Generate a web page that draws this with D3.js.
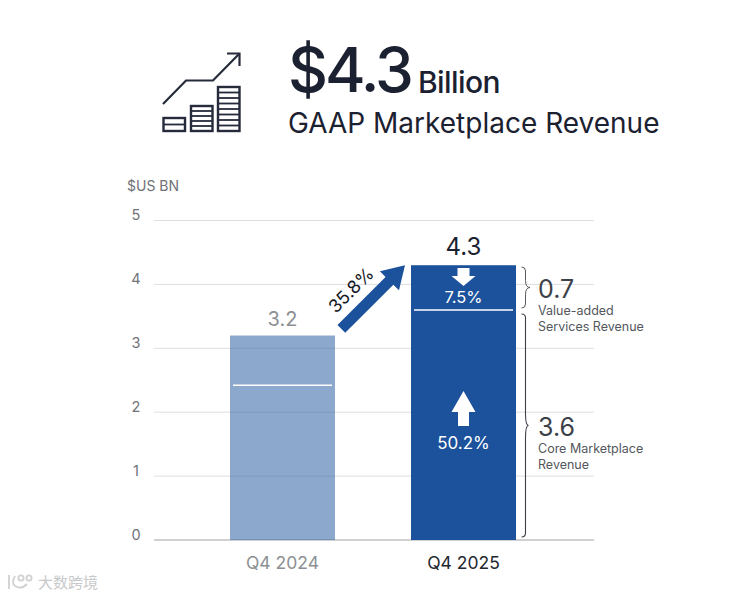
<!DOCTYPE html>
<html>
<head>
<meta charset="utf-8">
<script src="https://cdn.jsdelivr.net/npm/d3@7"></script>
<style>
  html, body { margin: 0; padding: 0; background: #fff; }
  text { font-family: Inter, Roboto, sans-serif; }
</style>
</head>
<body>
<svg id="chart" width="731" height="597"></svg>
<script>
// Values
var quarters = ["Q4 2024", "Q4 2025"];
var totals = [3.2, 4.3];
var splitValues = [2.42, 3.6];
var yTicks = [0, 1, 2, 3, 4, 5];
var barOpacity = [0.5, 1];
var quarterColors = ["#8c8f93", "#23272e"];
var totalColors = ["#8c8f93", "#1b2130"];
var totalSizes = [20, 24];
var growthLabel = "35.8%";
var services = { value: "0.7", lines: ["Value-added", "Services Revenue"], change: "7.5%" };
var core = { value: "3.6", lines: ["Core Marketplace", "Revenue"], change: "50.2%" };

var svg = d3.select("#chart");
var ink = "#1b2130";
var blue = "#1c519c";

var y = d3.scaleLinear().domain([0, 5]).range([540, 220.5]);
var x = d3.scalePoint().domain(quarters).range([282.5, 463.5]);
var barW = 105;

///////////////////////////////////////////////////////////////////////////////
// Header

var icon = svg.append("g").attr("fill", "none").attr("stroke", "#252b3a").attr("stroke-width", 2.2);
icon.append("path").attr("d", "M163,104L186,80.5L213,80.5L239,54");
icon.append("path").attr("d", "M227,53.5L239.5,53.5L239.5,66");
[[163.5, 185, 118, 2], [191, 212.5, 106, 5], [218, 239.5, 87, 8]].forEach(function (b) {
  var rows = d3.range(b[3] + 1).map(function (i) { return b[2] + (131 - b[2]) * i / b[3]; });
  icon.append("rect").attr("x", b[0]).attr("y", b[2]).attr("width", b[1] - b[0]).attr("height", 131 - b[2]).attr("stroke-width", 2.4);
  rows.slice(1, -1).forEach(function (r) {
    icon.append("line").attr("x1", b[0]).attr("x2", b[1]).attr("y1", r).attr("y2", r).attr("stroke-width", 1.8);
  });
});

svg.append("text").attr("x", 288).attr("y", 92).attr("font-size", 62).attr("font-weight", 500).attr("letter-spacing", -3).attr("fill", ink).text("$4.3");
svg.append("text").attr("x", 418).attr("y", 93).attr("font-size", 30).attr("font-weight", 500).attr("letter-spacing", -0.6).attr("fill", ink).text("Billion");
svg.append("text").attr("x", 288).attr("y", 133).attr("font-size", 28).attr("fill", ink).text("GAAP Marketplace Revenue");

///////////////////////////////////////////////////////////////////////////////
// Axes

svg.append("text").attr("x", 127).attr("y", 191).attr("font-size", 14).attr("fill", "#6f7276").text("$US BN");

svg.selectAll(".grid").data(yTicks).enter().append("line")
  .attr("x1", 154).attr("x2", 594)
  .attr("y1", function (d) { return y(d); }).attr("y2", function (d) { return y(d); })
  .attr("stroke", function (d) { return d === 0 ? "#cfd1d3" : "#dddedf"; })
  .attr("stroke-width", function (d) { return d === 0 ? 2 : 1; });

svg.selectAll(".ytick").data(yTicks).enter().append("text")
  .attr("x", 136).attr("y", function (d) { return y(d); })
  .attr("dy", -0.5).attr("text-anchor", "middle").attr("font-size", 14.5).attr("fill", "#6f7276")
  .text(function (d) { return d; });

///////////////////////////////////////////////////////////////////////////////
// Bars

svg.selectAll(".bar").data(quarters).enter().append("rect")
  .attr("x", function (d) { return x(d) - barW / 2; })
  .attr("width", barW)
  .attr("y", function (d, i) { return y(totals[i]); })
  .attr("height", function (d, i) { return y(0) - y(totals[i]); })
  .attr("fill", blue)
  .attr("fill-opacity", function (d, i) { return barOpacity[i]; });

svg.selectAll(".split").data(quarters).enter().append("line")
  .attr("x1", function (d) { return x(d) - barW / 2 + 3; })
  .attr("x2", function (d) { return x(d) + barW / 2 - 3; })
  .attr("y1", function (d, i) { return y(splitValues[i]); })
  .attr("y2", function (d, i) { return y(splitValues[i]); })
  .attr("stroke", "#fff").attr("stroke-width", 1.5);

svg.selectAll(".total").data(quarters).enter().append("text")
  .attr("x", function (d) { return x(d); })
  .attr("y", function (d, i) { return y(totals[i]) - 10; })
  .attr("text-anchor", "middle")
  .attr("font-size", function (d, i) { return totalSizes[i]; })
  .attr("fill", function (d, i) { return totalColors[i]; })
  .text(function (d, i) { return totals[i].toFixed(1); });

svg.selectAll(".quarter").data(quarters).enter().append("text")
  .attr("x", function (d) { return x(d); }).attr("y", 569)
  .attr("text-anchor", "middle").attr("font-size", 17.5)
  .attr("fill", function (d, i) { return quarterColors[i]; })
  .text(function (d) { return d; });

///////////////////////////////////////////////////////////////////////////////
// Annotations

// growth arrow, tip just left of the top of the new bar
var tipX = x(quarters[1]) - barW / 2 - 6, tipY = y(totals[1]);
svg.append("path")
  .attr("transform", "translate(" + tipX + "," + tipY + ") rotate(-45)")
  .attr("d", "M0,0L-22,-13.5L-22,-5.5L-90,-5.5L-90,5.5L-22,5.5L-22,13.5Z")
  .attr("fill", blue);

svg.append("text")
  .attr("transform", "translate(351,290) rotate(-45)")
  .attr("text-anchor", "middle").attr("dy", "0.35em").attr("font-size", 18).attr("fill", "#15181f")
  .text(growthLabel);

var midX = x(quarters[1]);
function blockArrow(cx, tip, dir, headH, headW, stemW, stemH) {
  var b = tip + dir * headH, e = b + dir * stemH;
  svg.append("path").attr("fill", "#fff").attr("d",
    "M" + cx + "," + tip + "L" + (cx + headW / 2) + "," + b + "L" + (cx + stemW / 2) + "," + b +
    "L" + (cx + stemW / 2) + "," + e + "L" + (cx - stemW / 2) + "," + e +
    "L" + (cx - stemW / 2) + "," + b + "L" + (cx - headW / 2) + "," + b + "Z");
}
blockArrow(midX, 286, -1, 10, 24, 12, 8);
blockArrow(midX, 391, 1, 21, 24, 11, 14);

svg.append("text").attr("x", midX).attr("y", 303).attr("text-anchor", "middle").attr("font-size", 16.5).attr("fill", "#fff").text(services.change);
svg.append("text").attr("x", midX).attr("y", 449).attr("text-anchor", "middle").attr("font-size", 17).attr("fill", "#fff").text(core.change);

// curly braces to the right of the new bar
function brace(xa, top, bottom, point, midR) {
  var mid = (top + bottom) / 2, r = 4, xb = xa + point;
  return "M" + (xa - 4) + "," + top + "Q" + xa + "," + top + " " + xa + "," + (top + r) +
    "L" + xa + "," + (mid - midR) + "Q" + xa + "," + mid + " " + xb + "," + mid +
    "Q" + xa + "," + mid + " " + xa + "," + (mid + midR) +
    "L" + xa + "," + (bottom - r) + "Q" + xa + "," + bottom + " " + (xa - 4) + "," + bottom;
}
svg.append("path").attr("d", brace(525.5, 267, 308, 4.5, 7)).attr("fill", "none").attr("stroke", "#55585e").attr("stroke-width", 1);
svg.append("path").attr("d", brace(525.5, 314, 537, 3, 12)).attr("fill", "none").attr("stroke", "#3c3f46").attr("stroke-width", 1.1);

function sideLabel(item, top) {
  svg.append("text").attr("x", 538).attr("y", top).attr("font-size", 25).attr("fill", "#3c4048").text(item.value);
  item.lines.forEach(function (l, i) {
    svg.append("text").attr("x", 538).attr("y", top + 17 + i * 16).attr("font-size", 12.5).attr("fill", "#54575c").text(l);
  });
}
sideLabel(services, 298);
sideLabel(core, 436);

// watermark
var mark = svg.append("g").attr("fill", "none").attr("stroke", "#d0d1d2").attr("stroke-width", 1.8);
mark.append("path").attr("d", "M9,575L9,589M15,576Q11,583 15,586Q21,590 27,584");
mark.append("circle").attr("cx", 21).attr("cy", 578).attr("r", 2.6);
mark.append("circle").attr("cx", 29).attr("cy", 578).attr("r", 2.6);
svg.append("text").attr("x", 38).attr("y", 588).attr("font-size", 15)
  .attr("style", "font-family:'Noto Sans CJK SC'").attr("fill", "#c8c9ca").text("大数跨境");
</script>
</body>
</html>
